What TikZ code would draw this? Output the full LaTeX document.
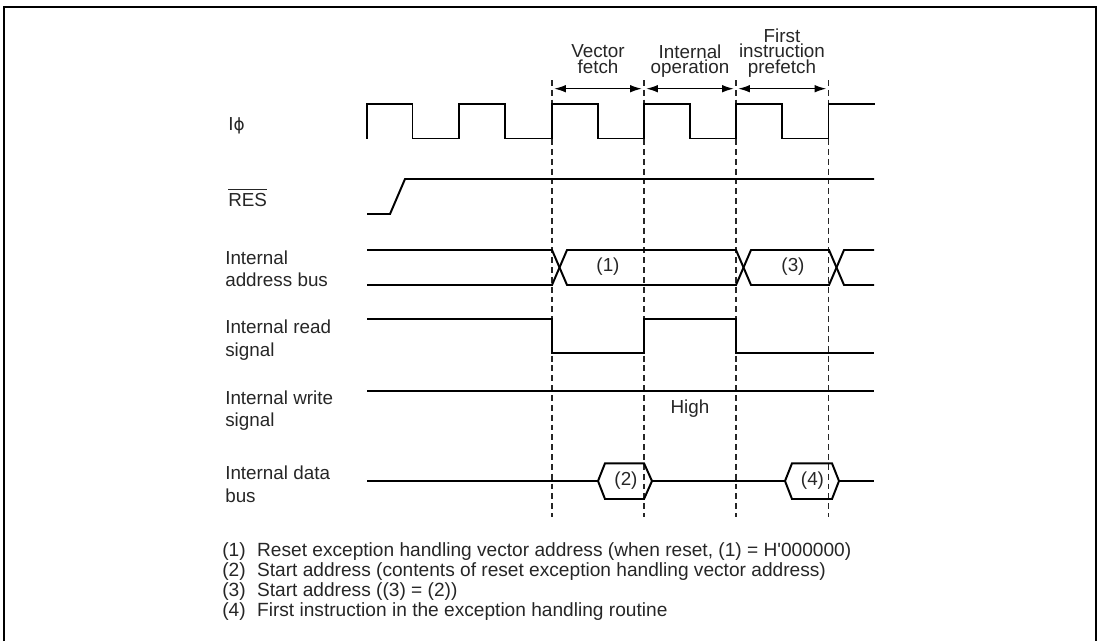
\documentclass[tikz,border=0pt]{standalone}
\usepackage{fontspec}
\setmainfont{Liberation Sans}
\newfontfamily\phifont{DejaVu Sans}
\usetikzlibrary{arrows.meta}
\newcommand{\barsig}[1]{\vbox{\hrule height 0.7pt\kern 2.6pt\hbox{#1}}}
\begin{document}
\begin{tikzpicture}[x=0.025cm, y=-0.025cm,
  wave/.style={draw=black, line width=1.4pt},
  guide/.style={draw=black!85, line width=0.8pt, dash pattern=on 4.2pt off 2.8pt},
  period/.style={{Latex[length=8.3pt,width=5.4pt]}-{Latex[length=8.3pt,width=5.4pt]}, line width=0.9pt, shorten <=1.6pt, shorten >=1.6pt},
  lbl/.style={inner sep=0pt, text=black!85, font={\fontsize{13.4}{16}\selectfont}, align=left},
  head/.style={inner sep=0pt, text=black!85, font={\fontsize{13.4}{11}\selectfont}, align=center},
  note/.style={inner sep=0pt, text=black!85, font={\fontsize{13.6}{14}\selectfont}, anchor=base west},
  frameline/.style={line width=1.6pt}
]
\useasboundingbox (0,0) rectangle (1100,641);
\draw[frameline] (4,641) -- (4,6.7) -- (1096,6.7) -- (1096,641);
\coordinate (g0) at (552,80);
\coordinate (g1) at (644,80);
\coordinate (g2) at (736,80);
\coordinate (g3) at (828.5,80);
\coordinate (h0) at (552,517);
\coordinate (h1) at (644,517);
\coordinate (h2) at (736,517);
\coordinate (h3) at (828.5,517);
\draw[guide] (g0) -- (h0);
\draw[guide] (g1) -- (h1);
\draw[guide] (g2) -- (h2);
\draw[guide] (g3) -- (h3);
\coordinate (a0) at (552,88.7);
\coordinate (a1) at (644,88.7);
\coordinate (a2) at (736,88.7);
\coordinate (a3) at (828.5,88.7);
\draw[period] (a0) -- (a1);
\draw[period] (a1) -- (a2);
\draw[period] (a2) -- (a3);
\node[head, anchor=north] (vf) at (598,44.5) {Vector\\fetch};
\node[head, anchor=north] (io) at (690,44.5) {Internal\\operation};
\node[head, anchor=north] (fp) at (782,28.5) {First\\instruction\\prefetch};
\node[lbl, anchor=base west] (phi) at (228,130.5) {I{\phifont\fontsize{12}{14}\selectfont ϕ}};
\node[lbl, anchor=base west] (res) at (228,206.7) {\barsig{RES}};
\node[lbl, anchor=north west] (addr) at (225,250.5) {Internal\\address bus};
\node[lbl, anchor=north west] (rd) at (225,319.8) {Internal read\\signal};
\node[lbl, anchor=north west] (wr) at (225,390.5) {Internal write\\signal};
\node[lbl, anchor=north west] (dat) at (225,465.8) {Internal data\\bus};
\draw[wave] (367,138.5) -- (367,104) -- (412.5,104) -- (412.5,138.5) -- (459,138.5) -- (459,104) -- (505,104) -- (505,138.5) -- (552,138.5) -- (552,104) -- (598,104) -- (598,138.5) -- (644,138.5) -- (644,104) -- (690,104) -- (690,138.5) -- (736,138.5) -- (736,104) -- (782,104) -- (782,138.5) -- (828.5,138.5) -- (828.5,104) -- (875,104);
\draw[wave] (367,214) -- (390,214) -- (405,179) -- (874,179);
\draw[wave] (367,250) -- (552,250) -- (567,285) -- (736,285) -- (751,250) -- (829,250) -- (844,285) -- (874,285);
\draw[wave] (367,285) -- (552,285) -- (567,250) -- (736,250) -- (751,285) -- (829,285) -- (844,250) -- (874,250);
\node[lbl] (v1) at (608,267) {(1)};
\node[lbl] (v3) at (793,267) {(3)};
\draw[wave] (367,319) -- (552,319) -- (552,353.3) -- (644,353.3) -- (644,319) -- (736,319) -- (736,353.3) -- (874,353.3);
\draw[wave] (367,391) -- (874,391);
\node[lbl, anchor=base] (hi) at (690,413.3) {High};
\draw[wave] (367,481) -- (598,481);
\draw[wave] (652,481) -- (785,481);
\draw[wave] (839,481) -- (874,481);
\draw[wave] (598,481) -- (605,463.3) -- (644,463.3) -- (652,481) -- (644,499) -- (605,499) -- cycle;
\draw[wave] (785,481) -- (792,463.3) -- (832,463.3) -- (839,481) -- (832,499) -- (792,499) -- cycle;
\node[lbl] (v2) at (626,481) {(2)};
\node[lbl] (v4) at (812.5,481) {(4)};
\node[note] (n1) at (222,556) {(1)\hspace{0.6em}Reset exception handling vector address (when reset, (1) = H\textquotesingle 000000)};
\node[note] (n2) at (222,576.3) {(2)\hspace{0.6em}Start address (contents of reset exception handling vector address)};
\node[note] (n3) at (222,596.6) {(3)\hspace{0.6em}Start address ((3) = (2))};
\node[note] (n4) at (222,616.9) {(4)\hspace{0.6em}First instruction in the exception handling routine};
\end{tikzpicture}
\end{document}
